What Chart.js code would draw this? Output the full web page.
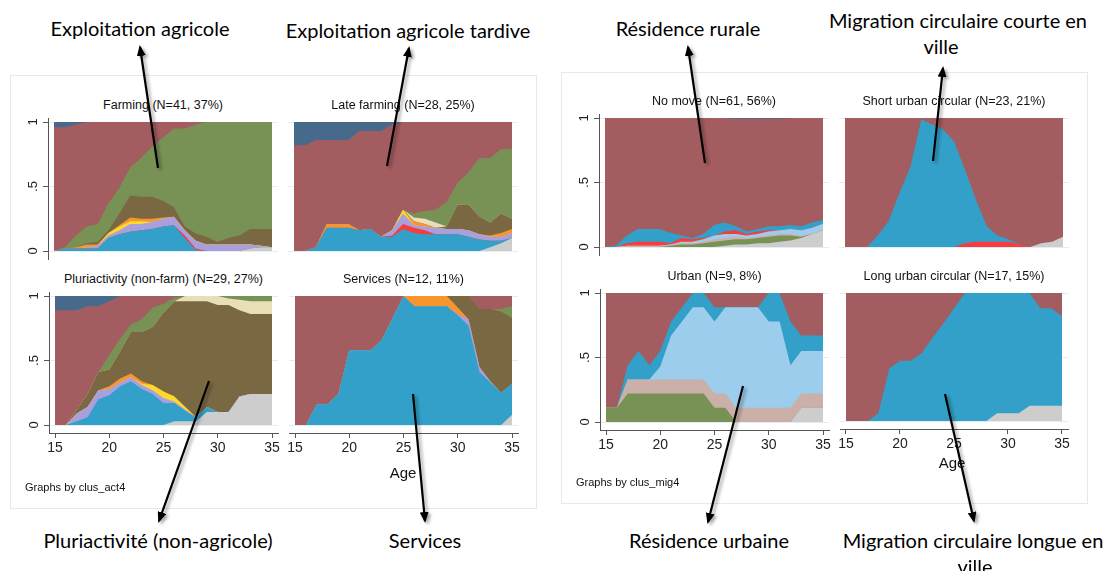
<!DOCTYPE html>
<html>
<head>
<meta charset="utf-8">
<script src="https://cdn.jsdelivr.net/npm/chart.js@4.4.1/dist/chart.umd.min.js"></script>
<style>
  body { margin: 0; width: 1107px; height: 571px; background: #fff; position: relative; overflow: hidden;
         font-family: "Liberation Sans", Arial, sans-serif; }
  .panel { position: absolute; border: 1px solid #e3eaec; box-sizing: border-box; }
  canvas { position: absolute; }
  .lbl { position: absolute; white-space: nowrap; transform: translate(-50%, -50%); line-height: 1; color: #111; }
  .sub { font-size: 12.5px; }
  .axt { font-size: 15px; }
  .by { position: absolute; font-size: 11px; color: #111; white-space: nowrap; transform: translateY(-50%); line-height: 1; }
  .note { font-family: Lato, "Open Sans", sans-serif; font-size: 20px; color: #000; }
  svg { position: absolute; left: 0; top: 0; }
</style>
</head>
<body>

<div class="panel" style="left:10px;top:75px;width:527px;height:434px"></div>
<div class="panel" style="left:561px;top:72px;width:527px;height:432px"></div>

<script>
// ages on the x axis and tick settings
const ages = [15,16,17,18,19,20,21,22,23,24,25,26,27,28,29,30,31,32,33,34,35];
const xTicks = [15, 20, 25, 30, 35];
const yTicks = [0, 0.5, 1];
const yTickText = ['0', '.5', '1'];

// --- activity clusters (share in each state, bottom to top) ---
const farmGray   = [0,0,0,0,0,0,0,0,0,0,0,0,0,0,0,0,0,0,.02,.03,.03];
const farmCyan   = [0,.02,.02,.02,.02,.10,.13,.15,.16,.17,.19,.20,.10,.01,0,0,0,0,0,0,0];
const farmRed    = [0,0,0,0,0,0,0,0,0,0,0,0,.02,.01,0,0,0,0,0,0,0];
const farmLav    = [0,0,0,.01,.02,.02,.03,.06,.05,.055,.06,.065,.04,.06,.05,.05,.05,.05,.03,.01,0];
const farmYellow = [0,0,0,0,0,.02,.03,.02,.02,0,0,0,0,0,0,0,0,0,0,0,0];
const farmOrange = [0,0,.01,.02,.01,0,.01,.03,.02,.025,.01,0,0,0,0,0,0,0,0,0,0];
const farmBrown  = [0,0,0,.01,.02,.02,.09,.17,.17,.17,.13,.075,.03,.055,.06,.02,.05,.07,.12,.13,.14];
const farmGreen  = [0,.01,.09,.13,.14,.21,.20,.22,.30,.39,.49,.61,.76,.845,.89,.93,.90,.88,.83,.83,.83];
const farmMaroon = [.96,.93,.86,.81,.79,.63,.51,.35,.28,.19,.12,.05,.05,.02,0,0,0,0,0,0,0];
const farmNavy   = [.04,.04,.02,0,0,0,0,0,0,0,0,0,0,0,0,0,0,0,0,0,0];

const lateGray   = [0,0,0,0,0,0,0,0,0,0,0,0,0,0,0,0,0,0,.03,.06,.10];
const lateCyan   = [0,0,.03,.18,.18,.18,.16,.17,.11,.11,.17,.14,.13,.13,.13,.13,.11,.09,.05,.02,0];
const lateRed    = [0,0,0,0,0,0,0,0,0,.01,.04,.04,.03,0,0,0,0,0,0,0,0];
const lateLav    = [0,0,0,0,0,0,0,0,0,.04,.08,.02,.03,.05,.04,.04,.05,.04,.03,.03,.04];
const lateYellow = [0,0,0,0,0,0,0,0,0,0,.03,0,0,0,0,0,0,0,0,0,0];
const lateOrange = [0,0,0,.03,.03,.03,0,0,0,0,0,.03,.02,0,0,0,0,0,.01,.03,.03];
const lateBrown  = [0,0,0,0,0,0,0,0,0,0,0,0,0,0,.02,.19,.20,.14,.10,.15,.08];
const lateCream  = [0,0,0,0,0,0,0,0,0,0,0,.03,.04,.04,0,0,0,0,0,0,0];
const lateGreen  = [0,0,0,0,0,0,0,0,0,0,0,.03,.06,.10,.19,.17,.25,.45,.50,.50,.54];
const lateMaroon = [.82,.82,.83,.65,.65,.65,.77,.76,.82,.82,.68,.71,.69,.68,.62,.47,.39,.28,.28,.21,.21];
const lateNavy   = [.18,.18,.14,.14,.14,.14,.07,.07,.07,.02,0,0,0,0,0,0,0,0,0,0,0];

const pluGray    = [0,0,0,0,0,0,0,0,0,0,0,.03,.03,.03,.10,.10,.10,.22,.24,.24,.24];
const pluCyan    = [0,0,.03,.06,.20,.23,.30,.34,.28,.24,.17,.14,.08,.03,.04,0,0,0,0,0,0];
const pluLav     = [0,0,.06,.08,.07,.05,.03,.03,.03,.03,.04,.01,.01,0,0,0,0,0,0,0,0];
const pluYellow  = [0,0,0,0,0,0,0,0,.01,.04,.05,.04,.02,0,0,0,0,0,0,0,0];
const pluOrange  = [0,0,0,0,0,.02,.03,.03,.02,0,0,0,0,0,0,0,0,0,0,0,0];
const pluBrown   = [0,0,.03,.10,.14,.13,.21,.32,.38,.45,.61,.74,.82,.90,.82,.83,.83,.67,.62,.62,.62];
const pluCream   = [0,0,0,0,0,0,0,0,0,0,0,0,.04,.04,.04,.07,.05,.08,.10,.10,.10];
const pluGreen   = [0,0,0,0,0,.11,.10,.06,.10,.15,.07,.03,0,0,0,0,.02,.03,.04,.04,.04];
const pluMaroon  = [.89,.89,.77,.68,.51,.42,.33,.22,.18,.09,.06,.01,0,0,0,0,0,0,0,0,0];
const pluNavy    = [.11,.11,.11,.08,.08,.04,0,0,0,0,0,0,0,0,0,0,0,0,0,0,0];

const servGray   = [0,0,0,0,0,0,0,0,0,0,0,0,0,0,0,0,0,0,0,0,.08];
const servCyan   = [0,0,.16,.16,.24,.58,.58,.58,.66,.83,1,.92,.92,.92,.92,.85,.77,.41,.33,.25,.24];
const servLav    = [0,0,0,0,0,0,0,0,0,0,0,0,0,0,0,.01,.05,.04,.01,0,0];
const servOrange = [0,0,0,0,0,0,0,0,0,0,0,.08,.08,.08,.08,.05,0,0,0,0,0];
const servBrown  = [0,0,0,0,0,0,0,0,0,0,0,0,0,0,0,.09,.18,.45,.56,.63,.51];
const servGreen  = [0,0,0,0,0,0,0,0,0,0,0,0,0,0,0,0,0,0,0,.02,.09];
const servMaroon = [1,1,.84,.84,.76,.42,.42,.42,.34,.17,0,0,0,0,0,0,0,.10,.10,.10,.08];

// --- migration clusters ---
const nmGray      = [0,0,0,0,0,0,0,0,0,0,0,.01,.02,.02,.03,.03,.04,.05,.07,.10,.13];
const nmGreen     = [0,0,0,0,0,0,.01,.02,.02,.03,.04,.04,.04,.04,.04,.05,.05,.04,.01,0,0];
const nmRose      = [0,0,.01,.01,.01,.01,.01,.01,.01,.01,.02,.02,.02,.01,.01,.01,.01,.01,.01,0,0];
const nmLightBlue = [0,0,0,0,0,0,0,.01,.01,.02,.03,.03,.02,.02,.02,.03,.03,.04,.04,.05,.05];
const nmRed       = [0,0,.02,.03,.03,.03,.01,.03,.02,.01,0,.02,.03,.01,.02,.01,0,0,0,0,0];
const nmCyan      = [0,.01,.06,.10,.10,.10,.08,.02,.01,.03,.08,.07,.03,.02,.02,.03,.03,.03,.03,.04,.03];
const nmMaroon    = [1,.99,.91,.86,.86,.86,.89,.91,.93,.90,.83,.81,.835,.875,.855,.835,.835,.83,.84,.81,.79];
const nmNavy      = [0,0,0,0,0,0,0,0,0,0,0,0,.005,.005,.005,.005,.005,0,0,0,0];

const suGray   = [0,0,0,0,0,0,0,0,0,0,0,0,0,0,0,0,0,0,.03,.04,.08];
const suRed    = [0,0,0,0,0,0,0,0,0,0,0,.03,.04,.04,.04,.04,.02,0,0,0,0];
const suCyan   = [0,0,0,.09,.20,.42,.62,.99,.95,.91,.82,.57,.33,.12,.05,.02,0,0,0,0,0];
const suMaroon = [1,1,1,.91,.80,.58,.38,.01,.05,.09,.18,.40,.63,.84,.91,.94,.98,1,.97,.96,.92];

const urGray      = [0,0,0,0,0,0,0,0,0,0,0,0,0,0,0,0,0,0,.11,.11,.11];
const urGreen     = [.11,.11,.22,.22,.22,.22,.22,.22,.22,.22,.11,.11,0,0,0,0,0,0,0,0,0];
const urRose      = [0,0,.11,.11,.11,.11,.11,.11,.11,.11,.11,.11,.11,.11,.11,.11,.11,.11,.11,.11,.11];
const urLightBlue = [0,0,0,0,0,.10,.34,.45,.56,.56,.56,.67,.78,.78,.78,.67,.67,.33,.33,.33,.33];
const urCyan      = [0,0,.11,.22,.11,.12,.11,.11,.11,.11,.11,0,0,0,0,.22,.22,.34,.12,.12,.12];
const urMaroon    = [.89,.89,.56,.45,.56,.45,.22,.11,0,0,.11,.11,.11,.11,.11,0,0,.22,.33,.33,.33];

const luGray   = [0,0,0,0,0,0,0,0,0,0,0,0,0,0,.06,.06,.06,.12,.12,.12,.12];
const luCyan   = [0,0,0,.06,.41,.47,.47,.53,.65,.76,.88,1,1,1,.94,.94,.94,.88,.76,.76,.70];
const luMaroon = [1,1,1,.94,.59,.53,.53,.47,.35,.24,.12,0,0,0,0,0,0,0,.12,.12,.18];

const colors = {
  gray: '#cdcdcd', cyan: '#32a0c8', red: '#fa3b3b', lav: '#a99fdc', yellow: '#fcd92b',
  orange: '#f8952f', brown: '#7a6843', cream: '#e8dfb8', green: '#789155', maroon: '#a35c60',
  navy: '#476a8c', lightBlue: '#9dcdec', rose: '#cbb0aa'
};

// plot boxes: x0/x1 = pixel of age 15/35, yTop/yBot = pixel of 1/0
const panels = [
  { title: 'Farming (N=41, 37%)', x0: 54, x1: 272, yTop: 122, yBot: 251, yAxis: true, xAxis: false,
    layers: [['gray', farmGray], ['cyan', farmCyan], ['red', farmRed], ['lav', farmLav], ['yellow', farmYellow],
             ['orange', farmOrange], ['brown', farmBrown], ['green', farmGreen], ['maroon', farmMaroon], ['navy', farmNavy]] },
  { title: 'Late farming (N=28, 25%)', x0: 294, x1: 512, yTop: 122, yBot: 251, yAxis: false, xAxis: false,
    layers: [['gray', lateGray], ['cyan', lateCyan], ['red', lateRed], ['lav', lateLav], ['yellow', lateYellow],
             ['orange', lateOrange], ['brown', lateBrown], ['cream', lateCream], ['green', lateGreen],
             ['maroon', lateMaroon], ['navy', lateNavy]] },
  { title: 'Pluriactivity (non-farm) (N=29, 27%)', x0: 55, x1: 272, yTop: 296, yBot: 425, yAxis: true, xAxis: true,
    layers: [['gray', pluGray], ['cyan', pluCyan], ['lav', pluLav], ['yellow', pluYellow], ['orange', pluOrange],
             ['brown', pluBrown], ['cream', pluCream], ['green', pluGreen], ['maroon', pluMaroon], ['navy', pluNavy]] },
  { title: 'Services (N=12, 11%)', x0: 295, x1: 512, yTop: 296, yBot: 425, yAxis: false, xAxis: true,
    layers: [['gray', servGray], ['cyan', servCyan], ['lav', servLav], ['orange', servOrange],
             ['brown', servBrown], ['green', servGreen], ['maroon', servMaroon]] },
  { title: 'No move (N=61, 56%)', x0: 605, x1: 823, yTop: 118, yBot: 247, yAxis: true, xAxis: false,
    layers: [['gray', nmGray], ['green', nmGreen], ['rose', nmRose], ['lightBlue', nmLightBlue], ['red', nmRed],
             ['cyan', nmCyan], ['maroon', nmMaroon], ['navy', nmNavy]] },
  { title: 'Short urban circular (N=23, 21%)', x0: 845, x1: 1063, yTop: 118, yBot: 247, yAxis: false, xAxis: false,
    layers: [['gray', suGray], ['red', suRed], ['cyan', suCyan], ['maroon', suMaroon]] },
  { title: 'Urban (N=9, 8%)', x0: 606, x1: 823, yTop: 293, yBot: 422, yAxis: true, xAxis: true,
    layers: [['gray', urGray], ['green', urGreen], ['rose', urRose], ['lightBlue', urLightBlue],
             ['cyan', urCyan], ['maroon', urMaroon]] },
  { title: 'Long urban circular (N=17, 15%)', x0: 846, x1: 1062, yTop: 293, yBot: 421, yAxis: false, xAxis: true,
    layers: [['gray', luGray], ['cyan', luCyan], ['maroon', luMaroon]] }
];

// rotated y tick labels, placed with the y scale
const yLabelPlugin = {
  id: 'yLabels',
  afterDraw(chart, args, opts) {
    if (!opts.show) return;
    const { ctx, chartArea, scales } = chart;
    ctx.save();
    ctx.font = '13px "Liberation Sans", Arial, sans-serif';
    ctx.fillStyle = '#222';
    ctx.textAlign = 'center';
    ctx.textBaseline = 'middle';
    yTicks.forEach((v, i) => {
      ctx.save();
      ctx.translate(chartArea.left - 15, scales.y.getPixelForValue(v));
      ctx.rotate(-Math.PI / 2);
      ctx.fillText(yTickText[i], 0, 0);
      ctx.restore();
    });
    ctx.restore();
  }
};

function addLabel(text, x, y, cls) {
  const d = document.createElement('div');
  d.className = 'lbl ' + cls;
  d.textContent = text;
  d.style.left = x + 'px';
  d.style.top = y + 'px';
  document.body.appendChild(d);
}

function drawPanel(p) {
  const kx = (p.x1 - p.x0) / 20;
  const ky = p.yBot - p.yTop;
  const axisW = p.yAxis ? 40 : 0;
  const axisH = p.xAxis ? 32 : 0;
  const areaL = p.x0 - 6, areaR = p.x1 + 6, areaT = p.yTop - 4, areaB = p.yBot + 8;

  const cv = document.createElement('canvas');
  cv.width = 10 + axisW + (areaR - areaL) + 10;
  cv.height = 4 + (areaB - areaT) + axisH + 4;
  cv.style.left = (areaL - axisW - 10) + 'px';
  cv.style.top = (areaT - 4) + 'px';
  document.body.appendChild(cv);

  new Chart(cv, {
    type: 'line',
    data: {
      datasets: p.layers.map(([key, vals]) => ({
        data: vals.map((v, i) => ({ x: ages[i], y: v })),
        backgroundColor: colors[key],
        borderColor: 'rgba(0,0,0,0)',
        borderWidth: 0,
        pointRadius: 0,
        tension: 0,
        fill: 'origin'
      }))
    },
    options: {
      responsive: false,
      animation: false,
      devicePixelRatio: 1,
      layout: { padding: { left: 10, right: 10, top: 4, bottom: 4 } },
      plugins: { legend: { display: false }, tooltip: { enabled: false }, yLabels: { show: p.yAxis } },
      scales: {
        x: {
          type: 'linear',
          min: 15 - 6 / kx,
          max: 35 + 6 / kx,
          afterBuildTicks: s => { s.ticks = xTicks.map(v => ({ value: v })); },
          afterFit: s => { s.height = axisH; },
          grid: { drawOnChartArea: false, drawTicks: p.xAxis, tickLength: 5, tickColor: '#555', tickWidth: 1 },
          border: { display: p.xAxis, color: '#555', width: 1 },
          ticks: { display: p.xAxis, padding: 2, color: '#222', maxRotation: 0,
                   font: { family: '"Liberation Sans", Arial, sans-serif', size: 14 } }
        },
        y: {
          stacked: true,
          min: -8 / ky,
          max: 1 + 4 / ky,
          afterBuildTicks: s => { s.ticks = yTicks.map(v => ({ value: v })); },
          afterFit: s => { s.width = axisW; },
          grid: { color: '#e4edf0', lineWidth: 1, drawTicks: p.yAxis, tickLength: 5, tickColor: '#555' },
          border: { display: p.yAxis, color: '#555', width: 1 },
          ticks: { display: false }
        }
      }
    },
    plugins: [yLabelPlugin]
  });

  addLabel(p.title, (p.x0 + p.x1) / 2, p.yTop - 17.5, 'sub');
}

panels.forEach(drawPanel);

addLabel('Age', 403, 472, 'axt');
addLabel('Age', 952, 462, 'axt');

function addBy(text, x, y) {
  const d = document.createElement('div');
  d.className = 'by';
  d.textContent = text;
  d.style.left = x + 'px';
  d.style.top = y + 'px';
  document.body.appendChild(d);
}
addBy('Graphs by clus_act4', 25, 487);
addBy('Graphs by clus_mig4', 576, 482);

// cluster names in French around the figure
addLabel('Exploitation agricole', 140, 28, 'note');
addLabel('Exploitation agricole tardive', 408, 30, 'note');
addLabel('Résidence rurale', 688, 28, 'note');
addLabel('Migration circulaire courte en', 958, 20, 'note');
addLabel('ville', 941, 46, 'note');
addLabel('Pluriactivité (non-agricole)', 158, 540, 'note');
addLabel('Services', 425, 540, 'note');
addLabel('Résidence urbaine', 709, 540, 'note');
addLabel('Migration circulaire longue en', 973, 540, 'note');
addLabel('ville', 975, 566, 'note');
</script>

<svg width="1107" height="571">
  <defs>
    <marker id="head" markerWidth="11" markerHeight="9" refX="9" refY="4.5" orient="auto" markerUnits="userSpaceOnUse">
      <path d="M0,0 L11,4.5 L0,9 z" fill="#000"/>
    </marker>
    <filter id="sh" x="-50%" y="-20%" width="200%" height="140%">
      <feDropShadow dx="2.5" dy="2" stdDeviation="1.6" flood-color="#000" flood-opacity="0.35"/>
    </filter>
  </defs>
  <g filter="url(#sh)" stroke="#000" stroke-width="2.2" fill="none">
    <line x1="158" y1="168" x2="140" y2="47" marker-end="url(#head)"/>
    <line x1="387" y1="166" x2="409" y2="48" marker-end="url(#head)"/>
    <line x1="705" y1="163" x2="688" y2="47" marker-end="url(#head)"/>
    <line x1="933" y1="161" x2="943" y2="68" marker-end="url(#head)"/>
    <line x1="209" y1="381" x2="159" y2="521" marker-end="url(#head)"/>
    <line x1="413" y1="394" x2="425" y2="521" marker-end="url(#head)"/>
    <line x1="743" y1="386" x2="708" y2="522" marker-end="url(#head)"/>
    <line x1="945" y1="394" x2="974" y2="521" marker-end="url(#head)"/>
  </g>
</svg>
</body>
</html>
